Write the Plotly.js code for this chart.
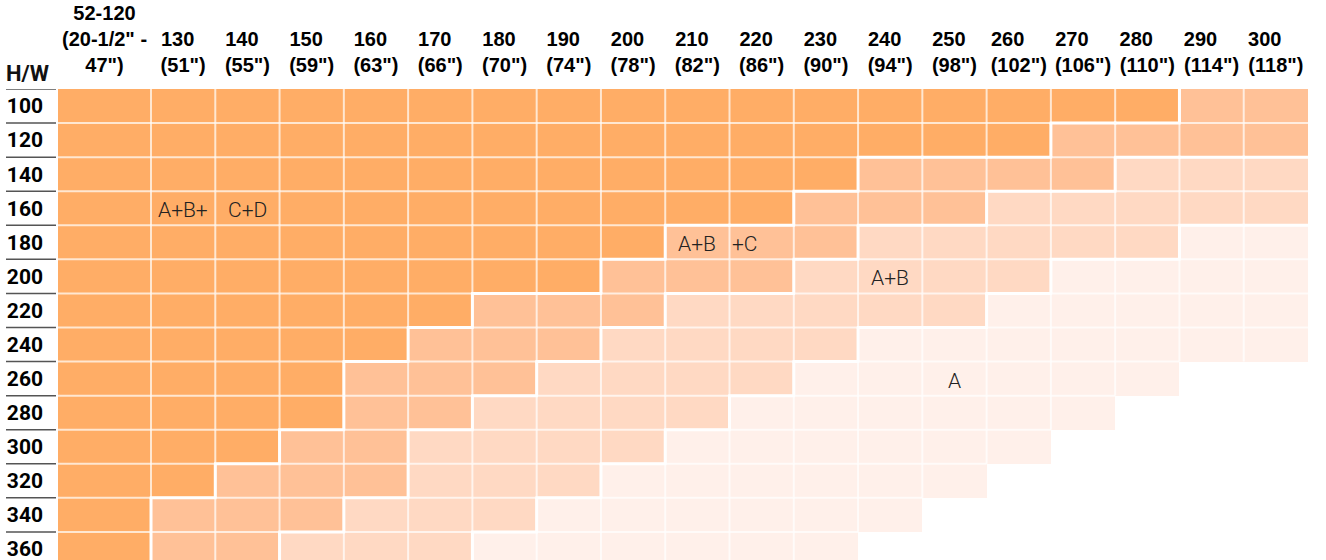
<!DOCTYPE html>
<html>
<head>
<meta charset="utf-8">
<script src="https://cdn.plot.ly/plotly-3.0.1.min.js"></script>
<style>
html,body{margin:0;padding:0;background:#fff;overflow:hidden;}
#chart{width:1326px;height:560px;}
</style>
</head>
<body>
<div id="chart"></div>
<script>
// Column (width) categories and their header labels
const widths = ["52-120","130","140","150","160","170","180","190","200","210","220","230","240","250","260","270","280","290","300"];
const widthInches = ["(20-1/2\" -<br>47\")","(51\")","(55\")","(59\")","(63\")","(66\")","(70\")","(74\")","(78\")","(82\")","(86\")","(90\")","(94\")","(98\")","(102\")","(106\")","(110\")","(114\")","(118\")"];
// Row (height) categories
const heights = ["100","120","140","160","180","200","220","240","260","280","300","320","340","360"];
// Configuration level per cell: 4 = A+B+C+D, 3 = A+B+C, 2 = A+B, 1 = A, 0 = not available
const r100 = [4,4,4,4,4,4,4,4,4,4,4,4,4,4,4,4,4,3,3];
const r120 = [4,4,4,4,4,4,4,4,4,4,4,4,4,4,4,3,3,3,3];
const r140 = [4,4,4,4,4,4,4,4,4,4,4,4,3,3,3,3,2,2,2];
const r160 = [4,4,4,4,4,4,4,4,4,4,4,3,3,3,2,2,2,2,2];
const r180 = [4,4,4,4,4,4,4,4,4,3,3,3,2,2,2,2,2,1,1];
const r200 = [4,4,4,4,4,4,4,4,3,3,3,2,2,2,2,1,1,1,1];
const r220 = [4,4,4,4,4,4,3,3,3,2,2,2,2,2,1,1,1,1,1];
const r240 = [4,4,4,4,4,3,3,3,2,2,2,2,1,1,1,1,1,1,1];
const r260 = [4,4,4,4,3,3,3,2,2,2,2,1,1,1,1,1,1,0,0];
const r280 = [4,4,4,4,3,3,2,2,2,2,1,1,1,1,1,1,0,0,0];
const r300 = [4,4,4,3,3,2,2,2,2,1,1,1,1,1,1,0,0,0,0];
const r320 = [4,4,3,3,3,2,2,2,1,1,1,1,1,1,0,0,0,0,0];
const r340 = [4,3,3,3,2,2,2,1,1,1,1,1,1,0,0,0,0,0,0];
const r360 = [4,3,3,2,2,2,1,1,1,1,1,1,0,0,0,0,0,0,0];
const levels = [r100,r120,r140,r160,r180,r200,r220,r240,r260,r280,r300,r320,r340,r360];
// Zone labels (text, row, column)
const zoneText = ["A+B+","C+D","A+B","+C","A+B","A"];
const zoneRow  = ["160","160","180","180","200","260"];
const zoneCol  = ["130","140","210","220","240","250"];
const levelColors = ["#FFF0EA","#FFD9C3","#FFC197","#FFAD66"];

// Geometry (first column wider)
const firstW = 1.447;
const xEdges = [0];
for (let i = 0; i < widths.length; i++) xEdges.push(xEdges[i] + (i === 0 ? firstW : 1));
const xCenters = widths.map((_, i) => (xEdges[i] + xEdges[i + 1]) / 2);
const yIdx = heights.map((_, i) => i);

const z = levels.map(row => row.map(v => v > 0 ? v : null));

const colorscale = [];
levelColors.forEach((c, i) => { colorscale.push([i / 4, c]); colorscale.push([(i + 1) / 4, c]); });

const heat = {
  type: 'heatmap', x: xEdges, y: yIdx, z: z,
  zmin: 0.5, zmax: 4.5, colorscale: colorscale, showscale: false,
  hoverinfo: 'skip'
};

// thin grid lines over filled cells
const gx = [], gy = [];
for (let r = 0; r < heights.length; r++) {
  for (let c = 0; c < widths.length; c++) {
    if (levels[r][c] > 0) {
      if (c + 1 < widths.length && levels[r][c + 1] > 0) { gx.push(xEdges[c + 1], xEdges[c + 1], null); gy.push(r - 0.5, r + 0.5, null); }
      if (r + 1 < heights.length && levels[r + 1][c] > 0) { gx.push(xEdges[c], xEdges[c + 1], null); gy.push(r + 0.5, r + 0.5, null); }
    }
  }
}
const grid = { type: 'scatter', mode: 'lines', x: gx, y: gy, line: { color: 'rgba(255,255,255,0.7)', width: 2 }, hoverinfo: 'skip', showlegend: false };

// thick white boundaries between configuration zones
const bx = [], by = [];
for (let r = 0; r < heights.length; r++) {
  for (let c = 0; c < widths.length; c++) {
    const v = levels[r][c];
    if (v === 0) continue;
    if (c + 1 < widths.length && levels[r][c + 1] > 0 && levels[r][c + 1] !== v) { bx.push(xEdges[c + 1], xEdges[c + 1], null); by.push(r - 0.5, r + 0.5, null); }
    if (r + 1 < heights.length && levels[r + 1][c] > 0 && levels[r + 1][c] !== v) { bx.push(xEdges[c] - 0.02, xEdges[c + 1] + 0.02, null); by.push(r + 0.5, r + 0.5, null); }
  }
}
const bounds = { type: 'scatter', mode: 'lines', x: bx, y: by, line: { color: '#FFFFFF', width: 3 }, hoverinfo: 'skip', showlegend: false };

const annotations = zoneText.map((t, i) => {
  const c = widths.indexOf(zoneCol[i]);
  const r = heights.indexOf(zoneRow[i]);
  const leftAligned = t.startsWith('+');
  return {
    x: leftAligned ? xEdges[c] : xCenters[c], y: r, xref: 'x', yref: 'y',
    text: t, showarrow: false, xanchor: leftAligned ? 'left' : 'center', xshift: 0, yshift: -2,
    font: { family: 'Roboto', size: 21, weight: 300, color: '#222222' }
  };
});
annotations.push({
  x: -58 / 1250 + 4 / 1250, y: 1, xref: 'paper', yref: 'paper', xanchor: 'left', yanchor: 'bottom', yshift: 1,
  text: 'H/W', showarrow: false, font: { family: 'Roboto', size: 22, weight: 700, color: '#111111' }
});

const shapes = [];
for (let i = 0; i <= heights.length; i++) {
  shapes.push({ type: 'line', xref: 'paper', yref: 'y', x0: -52 / 1250, x1: -2 / 1250, y0: i - 0.5, y1: i - 0.5, line: { color: '#555555', width: 1.5 } });
}

// header tick text: two-line headers are left-aligned blocks (pad first line with spaces)
const headFont = 'bold 20px "Liberation Sans"';
const ctx = document.createElement('canvas').getContext('2d');
ctx.font = headFont;
const spaceW = ctx.measureText('\u00a0').width || 5.56;
const tickText = widths.map((w, i) => {
  const second = widthInches[i];
  if (second.indexOf('<br>') >= 0) return w + '<br>' + second;
  const diff = ctx.measureText(second).width - ctx.measureText(w).width;
  const n = Math.max(0, Math.round(diff / spaceW));
  return w + '\u00a0'.repeat(n) + '<br>' + second;
});

const layout = {
  width: 1326, height: 560,
  margin: { l: 58, r: 18, t: 89, b: 0, pad: 0 },
  paper_bgcolor: '#FFFFFF', plot_bgcolor: '#FFFFFF',
  xaxis: {
    range: [0, xEdges[xEdges.length - 1]], side: 'top', tickvals: xCenters, ticktext: tickText,
    showgrid: false, zeroline: false, showline: false, ticks: '', fixedrange: true,
    tickfont: { family: 'Liberation Sans', size: 20, weight: 'bold', color: '#000000' }, ticklabelstandoff: 12
  },
  yaxis: {
    range: [13.324, -0.5], tickvals: yIdx, ticktext: heights,
    showgrid: false, zeroline: false, showline: false, ticks: '', fixedrange: true,
    tickfont: { family: 'Roboto', size: 21, weight: 700, color: '#000000' }, ticklabelstandoff: 14,
    ticklabeloverflow: 'allow'
  },
  annotations: annotations, shapes: shapes, showlegend: false
};

Plotly.newPlot('chart', [heat, grid, bounds], layout, { staticPlot: true, displayModeBar: false });
</script>
</body>
</html>
